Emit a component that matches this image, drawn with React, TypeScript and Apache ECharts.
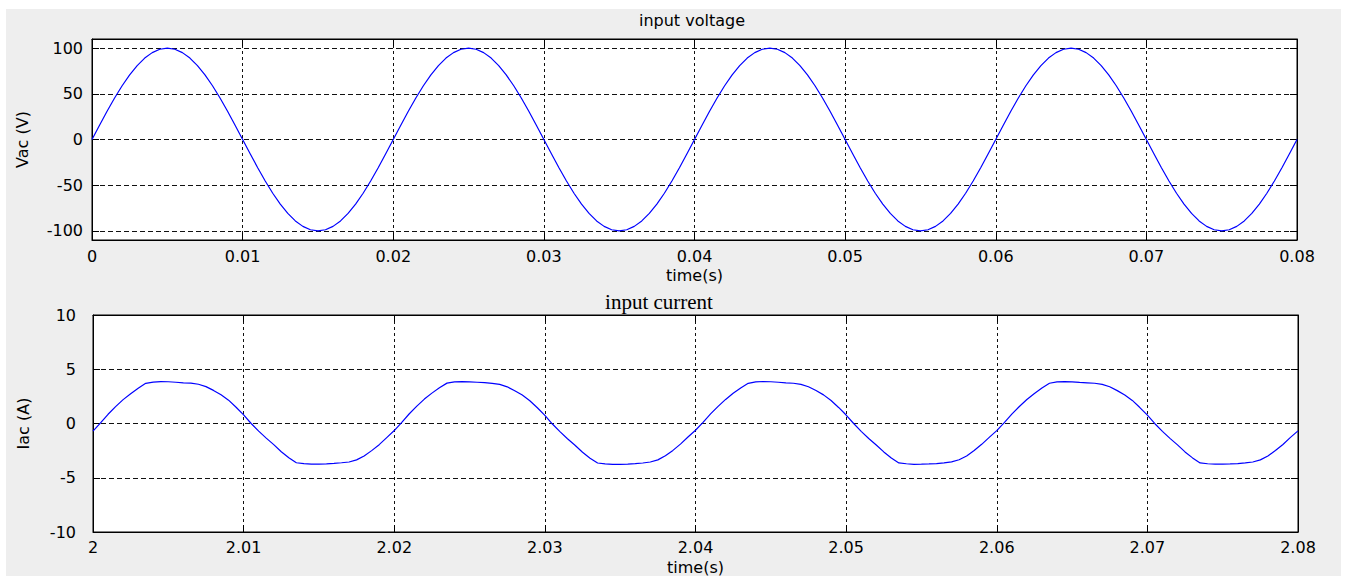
import React, { useEffect, useRef } from "react";
import * as echarts from "echarts";

// sample grid
const V_T0 = 0;
const I_T0 = 2;
const DT = 0.0005;

// input voltage (V), one sample every 0.5 ms from t = 0 to 0.08 s
const VOLTAGE = [
  0, 15.6, 30.9, 45.4, 58.8, 70.7, 80.9, 89.1, 95.1, 98.8,
  100, 98.8, 95.1, 89.1, 80.9, 70.7, 58.8, 45.4, 30.9, 15.6,
  0, -15.6, -30.9, -45.4, -58.8, -70.7, -80.9, -89.1, -95.1, -98.8,
  -100, -98.8, -95.1, -89.1, -80.9, -70.7, -58.8, -45.4, -30.9, -15.6,
  0, 15.6, 30.9, 45.4, 58.8, 70.7, 80.9, 89.1, 95.1, 98.8,
  100, 98.8, 95.1, 89.1, 80.9, 70.7, 58.8, 45.4, 30.9, 15.6,
  0, -15.6, -30.9, -45.4, -58.8, -70.7, -80.9, -89.1, -95.1, -98.8,
  -100, -98.8, -95.1, -89.1, -80.9, -70.7, -58.8, -45.4, -30.9, -15.6,
  0, 15.6, 30.9, 45.4, 58.8, 70.7, 80.9, 89.1, 95.1, 98.8,
  100, 98.8, 95.1, 89.1, 80.9, 70.7, 58.8, 45.4, 30.9, 15.6,
  0, -15.6, -30.9, -45.4, -58.8, -70.7, -80.9, -89.1, -95.1, -98.8,
  -100, -98.8, -95.1, -89.1, -80.9, -70.7, -58.8, -45.4, -30.9, -15.6,
  0, 15.6, 30.9, 45.4, 58.8, 70.7, 80.9, 89.1, 95.1, 98.8,
  100, 98.8, 95.1, 89.1, 80.9, 70.7, 58.8, 45.4, 30.9, 15.6,
  0, -15.6, -30.9, -45.4, -58.8, -70.7, -80.9, -89.1, -95.1, -98.8,
  -100, -98.8, -95.1, -89.1, -80.9, -70.7, -58.8, -45.4, -30.9, -15.6,
  0,
];

// input current (A), one sample every 0.5 ms from t = 2.00 to 2.08 s
const CURRENT = [
  -0.70, 0.05, 0.85, 1.55, 2.20, 2.75, 3.25, 3.70, 3.82, 3.86,
  3.85, 3.80, 3.75, 3.72, 3.62, 3.40, 3.05, 2.65, 2.15, 1.50,
  0.80, 0.00, -0.70, -1.35, -1.95, -2.60, -3.15, -3.62, -3.70, -3.75,
  -3.75, -3.72, -3.68, -3.62, -3.55, -3.35, -3.00, -2.50, -1.95, -1.30,
  -0.65, 0.10, 0.90, 1.60, 2.25, 2.80, 3.30, 3.72, 3.84, 3.86,
  3.84, 3.80, 3.76, 3.70, 3.60, 3.38, 3.02, 2.62, 2.10, 1.45,
  0.75, -0.05, -0.75, -1.40, -2.00, -2.65, -3.20, -3.64, -3.72, -3.76,
  -3.76, -3.74, -3.70, -3.64, -3.55, -3.35, -2.98, -2.48, -1.90, -1.25,
  -0.62, 0.10, 0.88, 1.58, 2.22, 2.78, 3.28, 3.70, 3.83, 3.87,
  3.85, 3.80, 3.75, 3.71, 3.61, 3.39, 3.04, 2.64, 2.12, 1.48,
  0.78, 0.00, -0.72, -1.38, -1.98, -2.62, -3.18, -3.63, -3.71, -3.76,
  -3.75, -3.73, -3.69, -3.63, -3.54, -3.34, -2.99, -2.49, -1.92, -1.28,
  -0.66, 0.08, 0.87, 1.57, 2.21, 2.77, 3.27, 3.71, 3.83, 3.86,
  3.84, 3.79, 3.75, 3.71, 3.61, 3.39, 3.03, 2.63, 2.13, 1.47,
  0.77, -0.02, -0.73, -1.37, -1.97, -2.62, -3.17, -3.63, -3.71, -3.75,
  -3.75, -3.73, -3.69, -3.63, -3.55, -3.35, -2.99, -2.49, -1.93, -1.28,
  -0.68,
];

const V_TICKS = [-100, -50, 0, 50, 100];
const V_RANGE = [-110, 110];
const I_RANGE = [-10, 10];
const V_X_RANGE = [0, 0.08];
const I_X_RANGE = [2, 2.08];
const X_STEP = 0.01;
const I_STEP = 5;

const FONT = "DejaVu Sans";

function toPoints(t0: number, values: number[]) {
  return values.map((v, i) => [+(t0 + i * DT).toFixed(4), v]);
}

export default function App() {
  const ref = useRef<HTMLDivElement>(null);

  useEffect(() => {
    if (!ref.current) return;
    const chart = echarts.init(ref.current, undefined, { renderer: "svg" });

    const axisLine = { show: true, onZero: false, lineStyle: { color: "#000", width: 1 } };
    const tick = { show: true, inside: true, length: 7, lineStyle: { color: "#000", width: 1 } };
    const label = { color: "#000", fontFamily: FONT, fontSize: 16 };
    const nameStyle = { color: "#000", fontFamily: FONT, fontSize: 16 };
    const xSplit = { show: true, lineStyle: { color: "#111", width: 1, type: [3, 3] } };
    const ySplit = { show: true, lineStyle: { color: "#111", width: 1, type: [5, 3] } };

    const option: any = {
      animation: false,
      backgroundColor: "#fff",
      graphic: [
        {
          type: "rect",
          z: -100,
          shape: { x: 6, y: 9, width: 1335, height: 567 },
          style: { fill: "#eeeeee" },
          silent: true,
        },
        {
          type: "text",
          x: 692,
          y: 20,
          style: {
            text: "input voltage",
            fill: "#000",
            font: `16px "${FONT}"`,
            align: "center",
            verticalAlign: "middle",
          },
        },
        {
          type: "text",
          x: 659,
          y: 302,
          style: {
            text: "input current",
            fill: "#000",
            font: `21px "Liberation Serif"`,
            align: "center",
            verticalAlign: "middle",
          },
        },
      ],
      grid: [
        { left: 92, top: 39, width: 1205, height: 201, show: true, backgroundColor: "#fff", borderColor: "#000", borderWidth: 1 },
        { left: 93, top: 315, width: 1205, height: 218, show: true, backgroundColor: "#fff", borderColor: "#000", borderWidth: 1 },
      ],
      xAxis: [
        {
          gridIndex: 0, type: "value", position: "bottom",
          min: V_X_RANGE[0], max: V_X_RANGE[1], interval: X_STEP,
          axisLine, axisTick: tick,
          axisLabel: { ...label, margin: 8 },
          splitLine: xSplit,
          name: "time(s)", nameLocation: "middle", nameGap: 27, nameTextStyle: nameStyle,
        },
        {
          gridIndex: 0, type: "value", position: "top",
          min: V_X_RANGE[0], max: V_X_RANGE[1], interval: X_STEP,
          axisLine, axisTick: tick, axisLabel: { show: false }, splitLine: { show: false },
        },
        {
          gridIndex: 1, type: "value", position: "bottom",
          min: I_X_RANGE[0], max: I_X_RANGE[1], interval: X_STEP,
          axisLine, axisTick: tick,
          axisLabel: { ...label, margin: 7 },
          splitLine: xSplit,
          name: "time(s)", nameLocation: "middle", nameGap: 27, nameTextStyle: nameStyle,
        },
        {
          gridIndex: 1, type: "value", position: "top",
          min: I_X_RANGE[0], max: I_X_RANGE[1], interval: X_STEP,
          axisLine, axisTick: tick, axisLabel: { show: false }, splitLine: { show: false },
        },
      ],
      yAxis: [
        {
          gridIndex: 0, type: "value", position: "left",
          min: V_RANGE[0], max: V_RANGE[1],
          axisLine,
          axisTick: { ...tick, customValues: V_TICKS },
          axisLabel: { ...label, margin: 9, customValues: V_TICKS },
          splitLine: ySplit,
          name: "Vac (V)", nameLocation: "middle", nameGap: 62, nameRotate: 90, nameTextStyle: nameStyle,
        },
        {
          gridIndex: 0, type: "value", position: "right",
          min: V_RANGE[0], max: V_RANGE[1],
          axisLine,
          axisTick: { ...tick, customValues: V_TICKS },
          axisLabel: { show: false, customValues: V_TICKS },
          splitLine: { show: false },
        },
        {
          gridIndex: 1, type: "value", position: "left",
          min: I_RANGE[0], max: I_RANGE[1], interval: I_STEP,
          axisLine, axisTick: tick,
          axisLabel: { ...label, margin: 17 },
          splitLine: ySplit,
          name: "Iac (A)", nameLocation: "middle", nameGap: 62, nameRotate: 90, nameTextStyle: nameStyle,
        },
        {
          gridIndex: 1, type: "value", position: "right",
          min: I_RANGE[0], max: I_RANGE[1], interval: I_STEP,
          axisLine, axisTick: tick, axisLabel: { show: false }, splitLine: { show: false },
        },
      ],
      series: [
        {
          type: "line", name: "Vac", xAxisIndex: 0, yAxisIndex: 0,
          data: toPoints(V_T0, VOLTAGE),
          symbol: "none", lineStyle: { color: "#0000ff", width: 1.2 }, z: 5,
        },
        {
          type: "line", name: "Iac", xAxisIndex: 2, yAxisIndex: 2,
          data: toPoints(I_T0, CURRENT),
          symbol: "none", lineStyle: { color: "#0000ff", width: 1.2 }, z: 5,
        },
      ],
    };

    chart.setOption(option);
    return () => chart.dispose();
  }, []);

  return (
    <div
      ref={ref}
      style={{ position: "fixed", left: 0, top: 0, width: 1345, height: 576 }}
    />
  );
}
